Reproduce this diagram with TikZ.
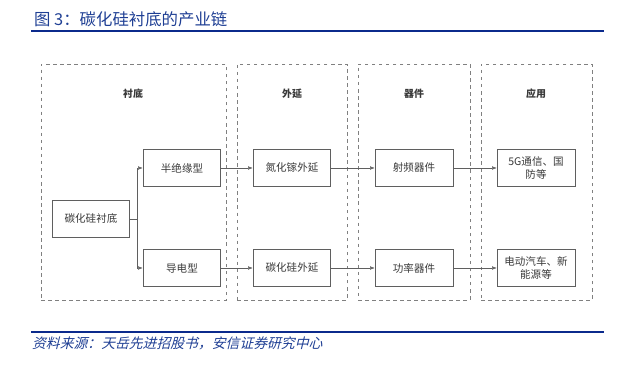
\documentclass[tikz,border=0pt]{standalone}
\usepackage{fontspec}
\setmainfont{Noto Sans CJK SC}
\newfontfamily\cjksrc[FakeSlant=0.25]{Noto Sans CJK SC}
\usepackage{tikz}
\usetikzlibrary{arrows.meta, positioning, calc}
\usepackage{xcolor}
\definecolor{ReportBlue}{HTML}{1F3F94}
\definecolor{RuleBlue}{HTML}{0B2A8C}
\definecolor{BoxGray}{HTML}{5F5F5F}
\definecolor{DashGray}{HTML}{808080}
\definecolor{TextGray}{HTML}{3A3A3A}
\tikzset{
    % Node styles
    chainbox/.style={
        rectangle,
        draw=BoxGray,
        fill=white,
        line width=0.7pt,
        minimum width=2.28cm,
        minimum height=1.12cm,
        text width=2.1cm,
        align=center,
        text=TextGray,
        font=\fontsize{9}{10.5}\selectfont
    },
    groupbox/.style={
        rectangle,
        draw=DashGray,
        dashed,
        line width=0.7pt,
        minimum height=7.08cm
    },
    headlabel/.style={
        text=TextGray,
        font=\fontsize{8.5}{10}\selectfont\bfseries
    },
    % Arrow styles
    myarrow/.style={
        -{Latex[length=1.4mm,width=1.1mm]},
        line width=0.4pt,
        BoxGray
    }
}
\begin{document}
\begin{tikzpicture}[x=0.03cm, y=-0.03cm]
    \useasboundingbox (0,0) rectangle (640,371);

    % title and rules
    \node[anchor=west, text=ReportBlue, font=\fontsize{14}{16}\selectfont] (title) at (30,19) {图 3：碳化硅衬底的产业链};
    \coordinate (tl) at (31,31);
    \coordinate (tr) at (604,31);
    \draw[RuleBlue, line width=1.1pt] (tl) -- (tr);
    \coordinate (bl) at (31,332);
    \coordinate (br) at (604,332);
    \draw[RuleBlue, line width=1.1pt] (bl) -- (br);
    \node[anchor=west, text=ReportBlue, font=\cjksrc\fontsize{11.8}{13}\selectfont] (source) at (28,343) {资料来源：天岳先进招股书，安信证券研究中心};

    % dashed stage groups
    \node[groupbox, minimum width=5.55cm] (gsub) at (133.5,182) {};
    \node[groupbox, minimum width=3.3cm] (gepi) at (292,182) {};
    \node[groupbox, minimum width=3.36cm] (gdev) at (414,182) {};
    \node[groupbox, minimum width=3.33cm] (gapp) at (536.5,182) {};

    \node[headlabel] (hsub) at (133,94) {衬底};
    \node[headlabel] (hepi) at (292,94) {外延};
    \node[headlabel] (hdev) at (414,94) {器件};
    \node[headlabel] (happ) at (536,94) {应用};

    % chain nodes
    \node[chainbox] (sic) at (91,219) {碳化硅衬底};
    \node[chainbox] (semi) at (182,168) {半绝缘型};
    \node[chainbox] (cond) at (182,268) {导电型};
    \node[chainbox] (gan) at (292,168) {氮化镓外延};
    \node[chainbox] (sicepi) at (292,268) {碳化硅外延};
    \node[chainbox] (rf) at (414,168) {射频器件};
    \node[chainbox] (power) at (414,268) {功率器件};
    \node[chainbox] (comm) at (536,168) {5G通信、国\\防等};
    \node[chainbox] (ev) at (536,268) {电动汽车、新\\能源等};

    \coordinate (split) at (137,219);
    \draw[BoxGray, line width=0.4pt] (sic.east) -- (split);
    \draw[myarrow] (split) |- (semi.west);
    \draw[myarrow] (split) |- (cond.west);
    \draw[myarrow] (semi) -- (gan);
    \draw[myarrow] (cond) -- (sicepi);
    \draw[myarrow] (gan) -- (rf);
    \draw[myarrow] (sicepi) -- (power);
    \draw[myarrow] (rf) -- (comm);
    \draw[myarrow] (power) -- (ev);
\end{tikzpicture}
\end{document}
